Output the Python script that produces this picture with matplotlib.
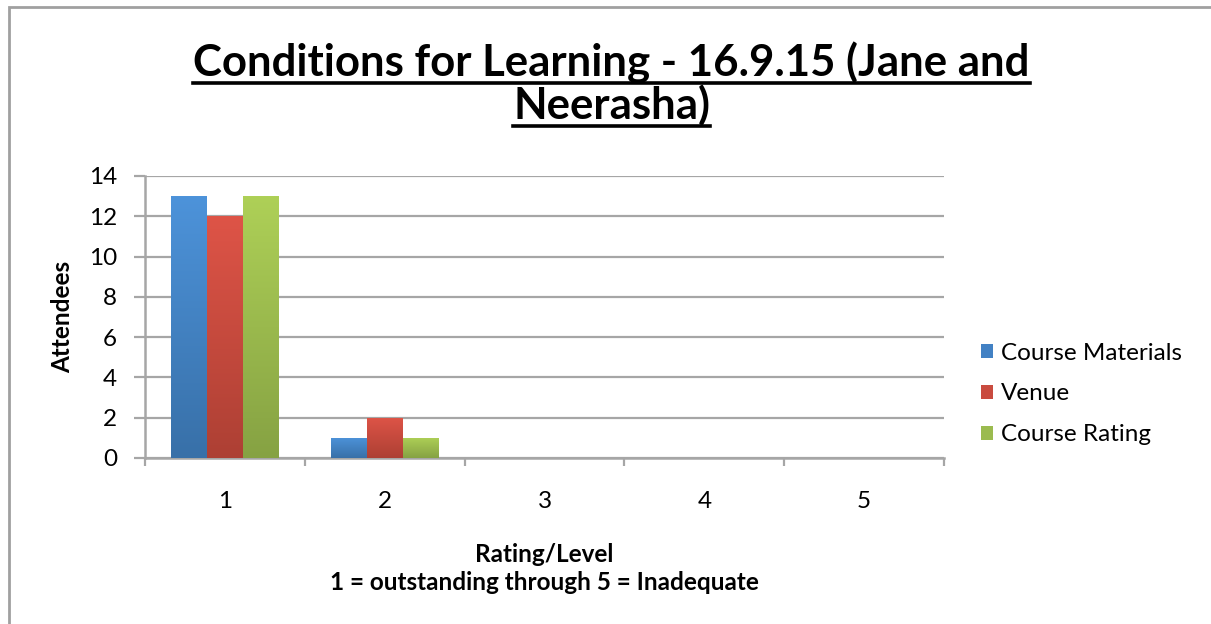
import matplotlib
matplotlib.use("Agg")
import matplotlib.pyplot as plt
import numpy as np
from matplotlib.patches import Rectangle, Patch
from matplotlib.colors import LinearSegmentedColormap
from matplotlib.lines import Line2D

plt.rcParams['font.family'] = ['Lato', 'DejaVu Sans']

# ---- data ----
categories = ["1", "2", "3", "4", "5"]
series_names = ["Course Materials", "Venue", "Course Rating"]
course_materials = [13, 1, 0, 0, 0]
venue = [12, 2, 0, 0, 0]
course_rating = [13, 1, 0, 0, 0]
y_ticks = [0, 2, 4, 6, 8, 10, 12, 14]
title_lines = ["Conditions for Learning - 16.9.15 (Jane and", "Neerasha)"]
x_label = "Rating/Level\n1 = outstanding through 5 = Inadequate"
y_label = "Attendees"

# ---- styles ----
top_colors = ["#4d93da", "#de5447", "#aed057"]
bot_colors = ["#3870a8", "#ad4034", "#86a243"]
mid_colors = ["#4281c4", "#c94b3f", "#9bbb4f"]
grid_col = "#a6a6a6"
FS = 17.5

W, H = 1211, 624
fig = plt.figure(figsize=(W / 100, H / 100), dpi=100)
ax = fig.add_axes([145 / W, 1 - 458 / H, (944 - 145) / W, (458 - 176) / H])

x = np.arange(1, len(categories) + 1)
bw = 0.225
all_series = [course_materials, venue, course_rating]
offsets = [-bw, 0, bw]
grad = np.linspace(1, 0, 256).reshape(-1, 1)
for vals, off, tc, bc, name in zip(all_series, offsets, top_colors, bot_colors, series_names):
    bars = ax.bar(x + off, vals, width=bw, color=tc, label=name, zorder=3, linewidth=0)
    cmap = LinearSegmentedColormap.from_list("g", [bc, tc])
    for b in bars:
        h = b.get_height()
        if h <= 0:
            continue
        bx, bwid = b.get_x(), b.get_width()
        im = ax.imshow(grad, cmap=cmap, vmin=0, vmax=1, aspect='auto',
                       extent=[bx, bx + bwid, 0, h], zorder=4, interpolation='bilinear')
        im.set_clip_path(b)

ax.set_xlim(0.5, len(categories) + 0.5)
ax.set_ylim(0, 14)
ax.set_yticks(y_ticks)
ax.set_yticklabels([str(t) for t in y_ticks], fontsize=FS)
ax.set_xticks(x)
ax.set_xticklabels(categories, fontsize=FS)
ax.set_xticks(np.arange(0.5, len(categories) + 1, 1), minor=True)
ax.tick_params(axis='x', which='major', length=0, pad=24)
ax.tick_params(axis='x', which='minor', length=6, width=1.6, color=grid_col, direction='out')
ax.tick_params(axis='y', length=8, width=1.6, color=grid_col, direction='out', pad=12)
ax.grid(axis='y', color=grid_col, linewidth=1.6, zorder=0)
ax.set_axisbelow(True)
for s in ['top', 'right']:
    ax.spines[s].set_visible(False)
for s in ['left', 'bottom']:
    ax.spines[s].set_color(grid_col)
    ax.spines[s].set_linewidth(1.8)

ax.set_xlabel(x_label, fontsize=FS, fontweight='bold', labelpad=22, linespacing=1.25)
ax.set_ylabel(y_label, fontsize=FS, fontweight='bold', labelpad=11)

# legend
handles = [Patch(facecolor=c, edgecolor='none') for c in mid_colors]
leg = fig.legend(handles, series_names, loc='center left',
                 bbox_to_anchor=(969 / W, 1 - 394 / H), frameon=False, borderpad=0,
                 fontsize=FS, handlelength=0.5, handleheight=0.5,
                 handletextpad=0.3, labelspacing=0.82)

# title with underline
title_y = [76, 119]
title_texts = []
for line, ty in zip(title_lines, title_y):
    t = fig.text(0.505, 1 - ty / H, line, ha='center', va='baseline',
                 fontsize=31.5, fontweight='bold')
    title_texts.append(t)

# border
fig.patches.append(Rectangle((9 / W, -0.1), 1.2, 1 - 7 / H + 0.1, transform=fig.transFigure,
                             fill=False, edgecolor='#a0a0a0', linewidth=2))

fig.canvas.draw()
r = fig.canvas.get_renderer()
for t, ty in zip(title_texts, title_y):
    bb = t.get_window_extent(r)
    yline = 1 - (ty + 7) / H
    fig.add_artist(Line2D([bb.x0 / W, bb.x1 / W], [yline, yline], transform=fig.transFigure,
                          color='black', linewidth=2.6))

fig.savefig("out.png", dpi=100)
